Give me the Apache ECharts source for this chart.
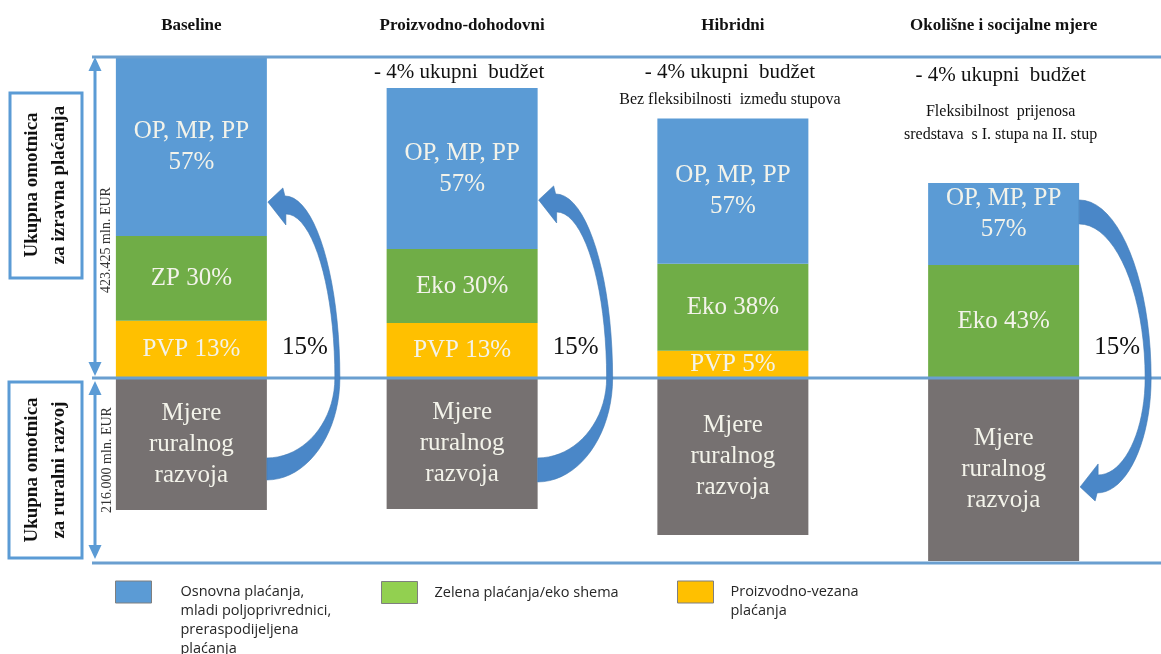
<!DOCTYPE html>
<html>
<head>
<meta charset="utf-8">
<script src="https://cdn.jsdelivr.net/npm/echarts@6/dist/echarts.min.js"></script>
<style>
html, body { margin: 0; padding: 0; background: #fff; }
#chart { width: 1161px; height: 654px; }
</style>
</head>
<body>
<div id="chart"></div>
<script>
// scenariji (kategorije)
const categories = ['Baseline', 'Proizvodno-dohodovni', 'Hibridni', 'Okolišne i socijalne mjere'];

// visine segmenata (ocitano sa slike, relativno: I. stup baseline ~ 100)
const basicValues = [56.1, 50.5, 45.5, 25.7];
const greenValues = [26.6, 23.2, 27.3, 35.4];
const coupledValues = [17.9, 17.2, 8.5, 0];
const ruralValues = [-41.4, -41.1, -49.2, -57.4];

// natpisi u stupcima
const basicLabels = ['OP, MP, PP\n57%', 'OP, MP, PP\n57%', 'OP, MP, PP\n57%', 'OP, MP, PP\n57%'];
const greenLabels = ['ZP 30%', 'Eko 30%', 'Eko 38%', 'Eko 43%'];
const coupledLabels = ['PVP 13%', 'PVP 13%', 'PVP 5%', ''];
const ruralLabels = ['Mjere\nruralnog\nrazvoja', 'Mjere\nruralnog\nrazvoja', 'Mjere\nruralnog\nrazvoja', 'Mjere\nruralnog\nrazvoja'];

// napomene iznad stupaca
const budgetNotes = ['', '- 4% ukupni  budžet', '- 4% ukupni  budžet', '- 4% ukupni  budžet'];
const flexNotes = ['', '', 'Bez fleksibilnosti  između stupova', 'Fleksibilnost  prijenosa\nsredstava  s I. stupa na II. stup'];
const transferLabels = ['15%', '15%', '', '15%'];
const envelopeNames = ['Ukupna omotnica\nza izravna plaćanja', 'Ukupna omotnica\nza ruralni razvoj'];
const envelopeTotals = ['423.425 mln. EUR', '216.000 mln. EUR'];

const legendNames = [
    'Osnovna plaćanja,\nmladi poljoprivrednici,\npreraspodijeljena\nplaćanja',
    'Zelena plaćanja/eko shema',
    'Proizvodno-vezana\nplaćanja'
];

const BLUE = '#5b9bd5', GREEN = '#70ad47', YELLOW = '#ffc000', GRAY = '#767171';
const LINE = '#6a9fd0', ARROW = '#4a87c8';
const BAR_W = 151;
const serif = 'Liberation Serif';

const segLabel = (labels) => ({
    show: true,
    position: 'inside',
    color: '#f3f3ea',
    fontFamily: serif,
    fontSize: 25,
    lineHeight: 31,
    formatter: (p) => labels[p.dataIndex]
});

// ikona poravnata s prvim redom teksta: prazni redovi ispred teksta
function legendAt(name, color, left, top, gap) {
    const lines = name.split('\n').length;
    return {
        data: [{ name, itemStyle: { color, borderColor: '#7f7f7f', borderWidth: 1 } }],
        left, top, padding: 0,
        icon: 'rect', itemWidth: 36, itemHeight: 22,
        selectedMode: false,
        formatter: (n) => '\n'.repeat(lines - 1) + n,
        textStyle: { fontFamily: 'Open Sans', fontSize: 14.5, color: '#262626', lineHeight: 19, padding: [0, 0, 0, gap] }
    };
}

const option = {
    animation: false,
    backgroundColor: '#fff',
    grid: { left: 56, right: 22, top: 57, bottom: 91 },
    xAxis: {
        type: 'category',
        data: categories,
        position: 'top',
        axisLine: { show: false },
        axisTick: { show: false },
        axisLabel: { interval: 0, margin: 23, fontFamily: serif, fontWeight: 'bold', fontSize: 17, color: '#111' }
    },
    yAxis: { type: 'value', min: -58, max: 100.6, show: false },
    legend: [
        legendAt(legendNames[0], BLUE, 115, 525.5, 24),
        legendAt(legendNames[1], '#92d050', 381, 581, 12),
        legendAt(legendNames[2], YELLOW, 677, 563.5, 12)
    ],
    series: [
        { name: legendNames[2], type: 'bar', stack: 'budget', barWidth: BAR_W, data: coupledValues,
          itemStyle: { color: YELLOW }, label: segLabel(coupledLabels) },
        { name: legendNames[1], type: 'bar', stack: 'budget', barWidth: BAR_W, data: greenValues,
          itemStyle: { color: GREEN }, label: segLabel(greenLabels) },
        { name: legendNames[0], type: 'bar', stack: 'budget', barWidth: BAR_W,
          data: basicValues.map((v, i) => i === 3 ? { value: v, label: { offset: [0, -10] } } : v),
          itemStyle: { color: BLUE }, label: segLabel(basicLabels) },
        { name: 'Mjere ruralnog razvoja', type: 'bar', stack: 'budget', barWidth: BAR_W, data: ruralValues,
          itemStyle: { color: GRAY }, label: segLabel(ruralLabels) }
    ]
};

const chart = echarts.init(document.getElementById('chart'));
chart.setOption(option);

// --- anotacije ---
const xAt = (i) => chart.convertToPixel({ xAxisIndex: 0 }, categories[i]);
const yAt = (v) => chart.convertToPixel({ yAxisIndex: 0 }, v);
const yMid = yAt(0), yTop = yAt(100.6), yBot = yAt(-58);

function bez(p0, p1, p2, p3, n) {
    const out = [];
    for (let k = 1; k <= n; k++) {
        const t = k / n, u = 1 - t;
        out.push([
            u * u * u * p0[0] + 3 * u * u * t * p1[0] + 3 * u * t * t * p2[0] + t * t * t * p3[0],
            u * u * u * p0[1] + 3 * u * u * t * p1[1] + 3 * u * t * t * p2[1] + t * t * t * p3[1]
        ]);
    }
    return out;
}

// zakrivljena strelica uz desni rub stupca
function curvedArrow(x0, ym, a) {
    const yO = ym + a.o, yI = ym + a.i, yT = ym + a.tip;
    const d = Math.sign(a.tip);
    const xo = x0 + a.out, xi = x0 + a.inn;
    const H1 = [x0 + 18, yT + d * 6], H2 = [x0 + 19, yT - d * 12];
    const bO = [x0 + 16, yT + d * 14], bI = [x0 + 19, yT - d * 23], T = [x0 + 1, yT];
    const k = 0.55;
    let pts = [[x0, yO]];
    pts = pts.concat(bez([x0, yO], [x0 + k * (xo - x0), yO], [xo, ym + k * (yO - ym)], [xo, ym], 20));
    pts = pts.concat(bez([xo, ym], [xo, ym + k * (H1[1] - ym)], [H1[0] + k * (xo - H1[0]), H1[1]], H1, 20));
    pts.push(bO, T, bI, H2);
    pts = pts.concat(bez(H2, [H2[0] + k * (xi - H2[0]), H2[1]], [xi, ym + k * (H2[1] - ym)], [xi, ym], 20));
    pts = pts.concat(bez([xi, ym], [xi, ym + k * (yI - ym)], [x0 + k * (xi - x0), yI], [x0, yI], 20));
    return pts;
}

const arrows = [
    { i: 0, o: 102, i2: 80, tip: -176, out: 73, inn: 68 },
    { i: 1, o: 104, i2: 80, tip: -178, out: 75, inn: 69 },
    { i: 3, o: -178, i2: -154, tip: 109, out: 72, inn: 66 }
];

const g = [];
// horizontalne linije
[yTop, yMid, yBot].forEach((y) => {
    g.push({ type: 'line', z: 50, shape: { x1: 92, y1: y, x2: 1161, y2: y }, style: { stroke: LINE, lineWidth: 3 } });
});
// okviri lijevo
g.push({ type: 'rect', z: 5, shape: { x: 10, y: 93, width: 72, height: 185 }, style: { fill: '#fff', stroke: BLUE, lineWidth: 3 } });
g.push({ type: 'rect', z: 5, shape: { x: 9, y: 382, width: 73, height: 176 }, style: { fill: '#fff', stroke: BLUE, lineWidth: 3 } });
[[46, 185], [46, 470]].forEach((p, j) => {
    g.push({ type: 'text', z: 6, x: p[0], y: p[1], rotation: Math.PI / 2,
        style: { text: envelopeNames[j], align: 'center', verticalAlign: 'middle', fontFamily: serif, fontWeight: 'bold', fontSize: 19, lineHeight: 27, fill: '#111' } });
});
// vertikalne dvostrane strelice
[[yTop, yMid - 2], [yMid + 3, yBot - 4]].forEach((s) => {
    g.push({ type: 'line', z: 40, shape: { x1: 95, y1: s[0] + 10, x2: 95, y2: s[1] - 10 }, style: { stroke: BLUE, lineWidth: 3 } });
    g.push({ type: 'polygon', z: 40, shape: { points: [[95, s[0]], [88.5, s[0] + 14], [101.5, s[0] + 14]] }, style: { fill: BLUE } });
    g.push({ type: 'polygon', z: 40, shape: { points: [[95, s[1]], [88.5, s[1] - 14], [101.5, s[1] - 14]] }, style: { fill: BLUE } });
});
[[106, 240], [107, 460]].forEach((p, j) => {
    g.push({ type: 'text', z: 40, x: p[0], y: p[1], rotation: Math.PI / 2,
        style: { text: envelopeTotals[j], align: 'center', verticalAlign: 'middle', fontFamily: serif, fontSize: 14, fill: '#333' } });
});
// napomene iznad stupaca
categories.forEach((c, i) => {
    const cx = xAt(i) - 3;
    if (budgetNotes[i]) {
        g.push({ type: 'text', z: 40, x: cx, y: i === 3 ? 75 : 72,
            style: { text: budgetNotes[i], align: 'center', verticalAlign: 'middle', fontFamily: serif, fontSize: 21, fill: '#111' } });
    }
    if (flexNotes[i]) {
        g.push({ type: 'text', z: 40, x: cx, y: i === 3 ? 123 : 100,
            style: { text: flexNotes[i], align: 'center', verticalAlign: 'middle', fontFamily: serif, fontSize: 16, lineHeight: 23, fill: '#111' } });
    }
    if (transferLabels[i]) {
        g.push({ type: 'text', z: 40, x: xAt(i) + BAR_W / 2 + 38, y: yMid - 31,
            style: { text: transferLabels[i], align: 'center', verticalAlign: 'middle', fontFamily: serif, fontSize: 25, fill: '#111' } });
    }
});
// zakrivljene strelice 15%
arrows.forEach((a) => {
    const x0 = xAt(a.i) + BAR_W / 2;
    g.push({ type: 'polygon', z: 60,
        shape: { points: curvedArrow(x0, yMid, { o: a.o, i: a.i2, tip: a.tip, out: a.out, inn: a.inn }) },
        style: { fill: ARROW, stroke: '#3f78b4', lineWidth: 0.6 } });
});

chart.setOption({ graphic: g });
</script>
</body>
</html>
